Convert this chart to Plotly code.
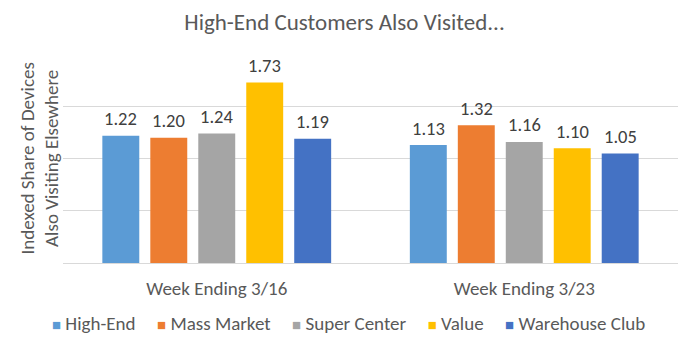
import plotly.graph_objects as go

categories = ["Week Ending 3/16", "Week Ending 3/23"]
series_names = ["High-End", "Mass Market", "Super Center", "Value", "Warehouse Club"]
high_end = [1.22, 1.13]
mass_market = [1.20, 1.32]
super_center = [1.24, 1.16]
value = [1.73, 1.10]
warehouse_club = [1.19, 1.05]
colors = ["#5B9BD5", "#ED7D31", "#A5A5A5", "#FFC000", "#4472C4"]

FONT = "Carlito, Lato"
series_values = [high_end, mass_market, super_center, value, warehouse_club]

W, H = 689, 343
ML, MR, MT, MB = 63, 11, 54, 80
BARGAP, GROUPGAP = 0.22, 0.23
plot_w = W - ML - MR
plot_h = H - MT - MB
slot = plot_w / len(categories) * (1 - BARGAP) / len(series_names)

fig = go.Figure()
for i, (name, vals, col) in enumerate(zip(series_names, series_values, colors)):
    fig.add_trace(go.Bar(
        name=name, x=categories, y=vals, marker_color=col,
        marker_line_width=0, showlegend=False,
    ))
    for c, v in zip(categories, vals):
        fig.add_annotation(
            x=c, y=v, xref="x", yref="y", text=f"{v:.2f}", showarrow=False,
            xshift=(i - (len(series_names) - 1) / 2) * slot, yshift=17,
            xanchor="center", yanchor="middle",
            font=dict(family=FONT, size=18.5, color="#404040"),
        )

# compact legend row (square marker + name), built from the series lists
NB = "\u00a0"
legend_parts = [
    f"<span style='color:{col};font-size:15px'>\u25A0</span>{NB}{name}"
    for name, col in zip(series_names, colors)
]
legend_text = (NB * 5).join(legend_parts)
fig.add_annotation(
    text=legend_text, xref="paper", yref="paper",
    x=(348 - ML) / plot_w, y=(H - MB - 323) / plot_h,
    xanchor="center", yanchor="middle", showarrow=False,
    font=dict(family=FONT, size=19, color="#595959"),
)

fig.update_layout(
    width=W, height=H,
    margin=dict(l=ML, r=MR, t=MT, b=MB, autoexpand=False),
    paper_bgcolor="white", plot_bgcolor="white",
    barmode="group", bargap=BARGAP, bargroupgap=GROUPGAP,
    font=dict(family=FONT, color="#595959", size=19),
    title=dict(text="High-End Customers Also Visited...", x=0.5, xanchor="center",
               y=1 - 22 / H, yanchor="middle",
               font=dict(family=FONT, size=23, color="#595959")),
    showlegend=False,
    yaxis=dict(range=[0, 2.003], dtick=0.5, showticklabels=False, gridcolor="#D9D9D9",
               gridwidth=1, zeroline=True, zerolinecolor="#D9D9D9", zerolinewidth=1),
    xaxis=dict(showline=False, ticks="", ticklabelstandoff=12,
               tickfont=dict(family=FONT, size=19, color="#595959")),
)
fig.add_annotation(text="Indexed Share of Devices<br>Also Visiting Elsewhere",
                   xref="paper", yref="paper", x=-0.039, y=0.5, textangle=-90,
                   showarrow=False, xanchor="center", yanchor="middle",
                   font=dict(family=FONT, size=19, color="#595959"))
fig.write_html("out.html")
